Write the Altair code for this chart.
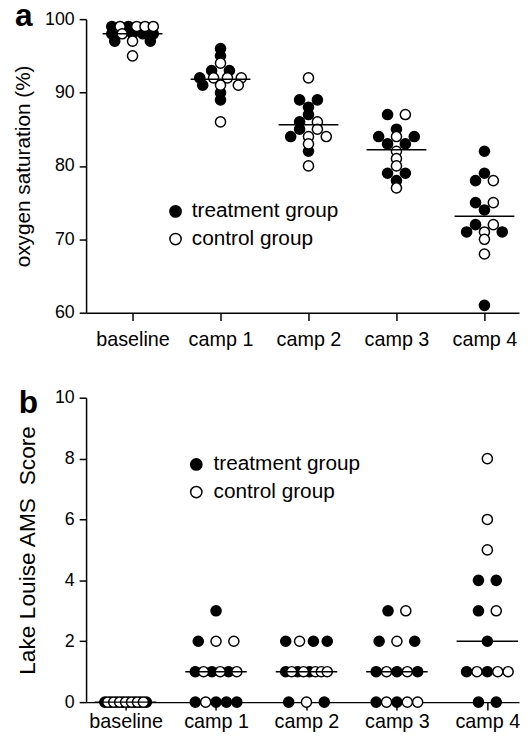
import json
import altair as alt
import pandas as pd

categories = ["baseline", "camp 1", "camp 2", "camp 3", "camp 4"]
groups = ["treatment group", "control group"]

# Panel a: oxygen saturation (%) per subject
spo2_treatment = [
    [99, 99, 98, 98, 98, 98, 97, 97],
    [96, 95, 93, 93, 92, 91, 90, 89],
    [89, 89, 88, 87, 86, 85, 84, 82],
    [87, 85, 84, 84, 83, 83, 79, 79, 78],
    [82, 79, 78, 75, 74, 72, 71, 71, 61],
]
spo2_control = [
    [99, 99, 99, 99, 98, 97, 95],
    [94, 92, 92, 92, 91, 91, 86],
    [92, 86, 85, 84, 84, 83, 80],
    [87, 84, 82, 81, 80, 77],
    [78, 75, 72, 71, 70, 68],
]

# Panel b: Lake Louise AMS score per subject
ams_treatment = [
    [0, 0, 0, 0, 0, 0, 0, 0],
    [3, 2, 1, 1, 1, 0, 0, 0, 0],
    [2, 2, 2, 1, 1, 1, 0, 0],
    [3, 2, 2, 1, 1, 1, 0, 0],
    [4, 4, 3, 2, 1, 1, 0, 0],
]
ams_control = [
    [0, 0, 0, 0, 0, 0, 0],
    [2, 2, 1, 1, 1, 0],
    [2, 1, 1, 1, 1, 1, 0],
    [3, 2, 1, 1, 0, 0, 0],
    [8, 6, 5, 3, 1, 1, 1],
]


def make_rows(treat, ctrl):
    rows = []
    for ci, cat in enumerate(categories):
        for v in treat[ci]:
            rows.append({"category": cat, "idx": ci, "group": groups[0], "value": v})
        for v in ctrl[ci]:
            rows.append({"category": cat, "idx": ci, "group": groups[1], "value": v})
    return pd.DataFrame(rows)


df_a = make_rows(spo2_treatment, spo2_control)
df_b = make_rows(ams_treatment, ams_control)

FONT = "Liberation Sans, Arial, Helvetica, sans-serif"
label_expr = json.dumps(categories) + "[datum.value]"


def panel(df, px, xdom, ydom, yvals, ytitle, stat, letter, letter_xy, leg_xy,
          height, title_pad, xlab_pad, label_off, title_size):
    base = (
        alt.Chart(df)
        .transform_window(gi="row_number()", groupby=["category", "value", "group"])
        .transform_calculate(key="datum.gi*2 + (datum.group == 'control group' ? 1 : 0)")
        .transform_window(
            i="row_number()", n="count()",
            groupby=["category", "value"],
            sort=[alt.SortField("key")],
            frame=[None, None],
        )
        .transform_calculate(
            sp="min(18, 42/max(datum.n-1,1))",
            xpos=f"datum.idx + (datum.i - 1 - (datum.n-1)/2)*datum.sp/{px}",
        )
    )
    xscale = alt.Scale(domain=xdom, nice=False, zero=False)
    yscale = alt.Scale(domain=ydom, nice=False, zero=False)
    xaxis = alt.Axis(values=[0, 1, 2, 3, 4], labelExpr=label_expr, title=None,
                     grid=False, tickSize=8, labelPadding=xlab_pad, labelFontSize=20)
    yaxis = alt.Axis(values=yvals, title=ytitle, grid=False, tickSize=7,
                     labelPadding=5, labelFontSize=18, titleFontSize=title_size,
                     titleFontWeight="normal", titlePadding=title_pad)
    pts = base.mark_point(
        shape="circle", filled=True, stroke="black", strokeWidth=1.5,
        size=105, opacity=1, fillOpacity=1,
    ).encode(
        x=alt.X("xpos:Q", scale=xscale, axis=xaxis),
        y=alt.Y("value:Q", scale=yscale, axis=yaxis),
        fill=alt.Fill(
            "group:N",
            scale=alt.Scale(domain=groups, range=["black", "white"]),
            legend=alt.Legend(
                orient="none", legendX=leg_xy[0], legendY=leg_xy[1], title=None,
                labelFontSize=21, labelFont=FONT, labelColor="black",
                symbolType="circle", symbolSize=130, symbolStrokeColor="black",
                symbolStrokeWidth=1.5, labelOffset=label_off, rowPadding=6, padding=0,
            ),
        ),
    )
    line = (
        alt.Chart(df)
        .transform_aggregate(m=f"{stat}(value)", groupby=["category", "idx"])
        .transform_calculate(x1="datum.idx - 0.34", x2="datum.idx + 0.34")
        .mark_rule(color="black", strokeWidth=1.5)
        .encode(x=alt.X("x1:Q", scale=xscale), x2="x2:Q", y=alt.Y("m:Q", scale=yscale))
    )
    let = (
        alt.Chart(pd.DataFrame({"t": [letter]}))
        .mark_text(font=FONT, fontSize=32, fontWeight="bold", align="left",
                   baseline="alphabetic", color="black")
        .encode(text="t:N", x=alt.value(letter_xy[0]), y=alt.value(letter_xy[1]))
    )
    return alt.layer(pts, line, let).properties(width=438, height=height)


pa = panel(df_a, 89, [-0.528, 4.393], [60, 100], [60, 70, 80, 90, 100],
           "oxygen saturation (%)", "mean", "a", (-72, 7), (80, 184), 297, 11, 9, 6, 21)
pb = panel(df_b, 91.5, [-0.437, 4.35], [0, 10], [0, 2, 4, 6, 8, 10],
           "Lake Louise AMS\u00a0 Score", "median", "b", (-68, 15), (101, 57), 308, 15, 2, 7, 23)

chart = (
    alt.vconcat(pa, pb, spacing=38)
    .resolve_scale(x="independent", y="independent", fill="independent")
    .properties(padding={"left": 4, "top": -12, "right": 0, "bottom": 0})
    .configure(font=FONT)
    .configure_view(stroke=None)
    .configure_axis(domainColor="black", tickColor="black", domainWidth=1.5,
                    tickWidth=1.5, labelColor="black", titleColor="black",
                    labelFont=FONT, titleFont=FONT)
)

chart.save("out.html", embed_options={"renderer": "svg", "actions": False})
